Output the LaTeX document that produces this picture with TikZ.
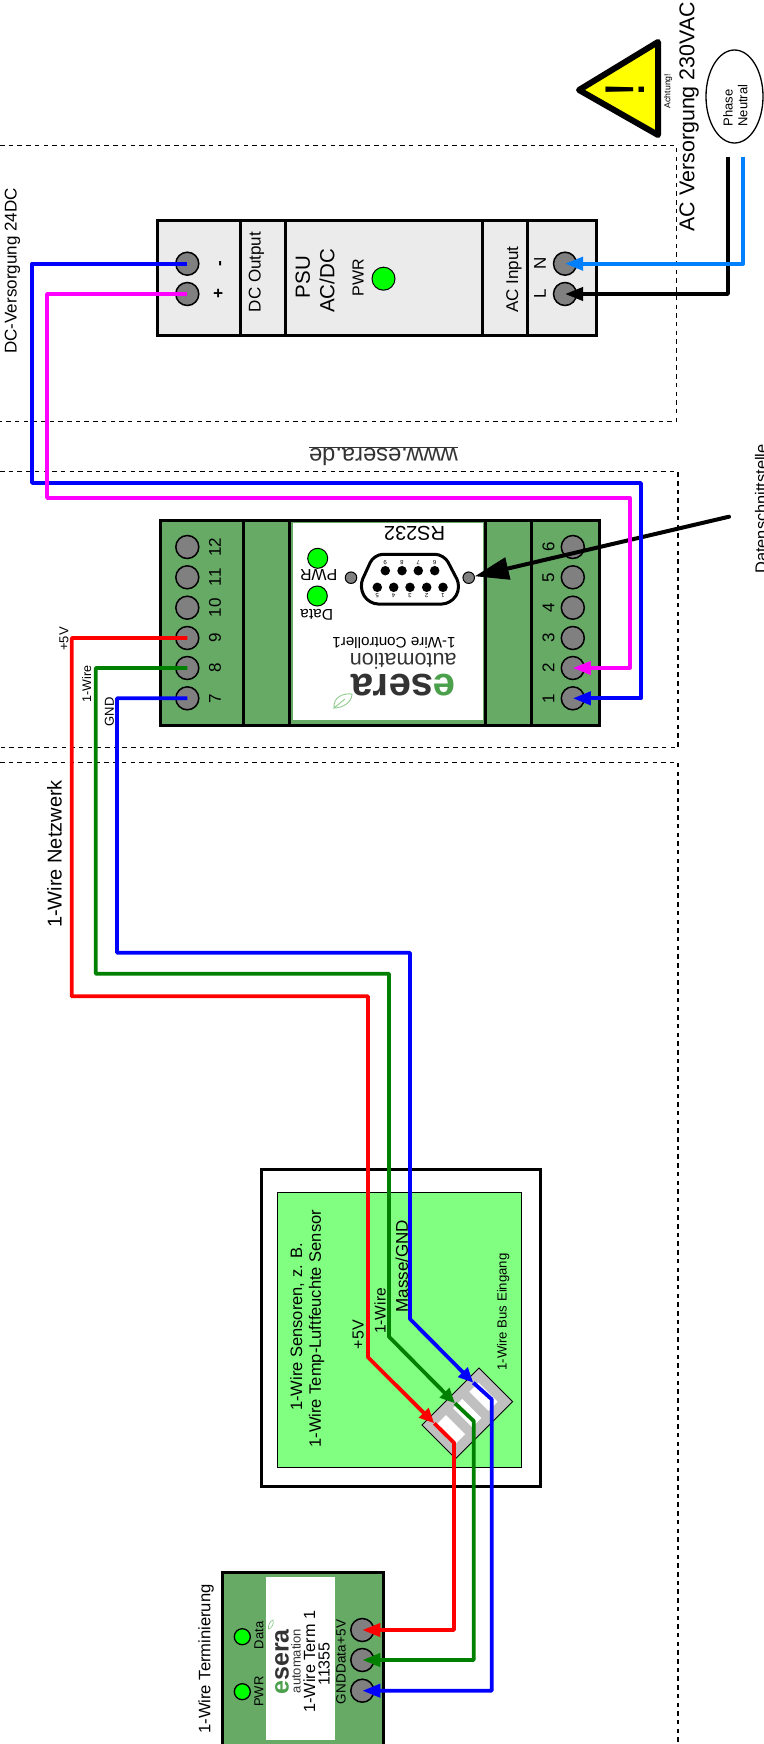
\documentclass[tikz,border=0pt]{standalone}
\usepackage{fontspec}
\setmainfont{Liberation Sans}
\usetikzlibrary{arrows.meta}
\newcommand\fs[1]{\fontsize{#1}{#1}\selectfont}
\definecolor{boardgreen}{HTML}{66AA66}
\definecolor{psugray}{HTML}{EBEBEB}
\definecolor{sensorgreen}{HTML}{80FF80}
\definecolor{acblue}{HTML}{0080FF}
\definecolor{wiregreen}{HTML}{008000}
\definecolor{wirepink}{HTML}{FF00FF}
\definecolor{wirered}{HTML}{FF0000}
\definecolor{wireblue}{HTML}{0000FF}
\definecolor{warnyellow}{HTML}{FFFF00}
\definecolor{ledgreen}{HTML}{00FF00}
\definecolor{termgray}{HTML}{808080}
\definecolor{conngray}{HTML}{C0C0C0}
\definecolor{logogreen}{HTML}{4BA04B}
\definecolor{logodark}{HTML}{333333}
\definecolor{leafgreen}{HTML}{90CC90}
\tikzset{
  term/.style={circle,draw=black,line width=1.5pt,fill=termgray,minimum size=23pt,inner sep=0pt},
  led/.style={circle,draw=black,line width=1pt,fill=ledgreen,inner sep=0pt},
  hole/.style={circle,draw=black,line width=1pt,fill=termgray,minimum size=11.5pt,inner sep=0pt},
  pin/.style={circle,fill=black,minimum size=9.5pt,inner sep=0pt},
  lab/.style={inner sep=0pt,rotate=90},
  flip/.style={inner sep=0pt,rotate=180},
  pinno/.style={inner sep=0pt,rotate=180,font=\fs{6}},
  frame/.style={draw=black,line width=3pt},
  zone/.style={draw=black,line width=1.5pt,dash pattern=on 4.5pt off 4.2pt},
  wire/.style={line width=3.8pt,line join=round},
  head/.style={-{Triangle[length=18pt,width=13pt]}},
  midhead/.style={-{Triangle[length=15pt,width=13pt]}},
  slot/.style={fill=white,rotate=45,minimum width=13pt,minimum height=27pt,inner sep=0pt},
  leaf/.style={draw=leafgreen,line width=0.9pt},
}
\begin{document}
\begin{tikzpicture}[x=1pt,y=-1pt]
\useasboundingbox (0,0) rectangle (763,1744);
% zones
\draw[zone] (0,145.7) -- (676.4,145.7) -- (676.4,421.7) -- (0,421.7);
\draw[zone] (0,471.7) -- (678,471.7) -- (678,747.7) -- (0,747.7);
\draw[zone] (0,762.3) -- (678,762.3) -- (678,1744);

% warning + supply
\draw[line width=6pt,line join=round,fill=warnyellow] (579,90) -- (658,42) -- (658,135) -- cycle;
\node[lab,font=\fs{56}] (warnmark) at (625,90) {!};
\node[lab,font=\fs{8.7}] (warntext) at (668,91) {Achtung!};
\node[lab,font=\fs{21.4}] (actitle) at (689,116.7) {AC Versorgung 230VAC};
\draw[line width=1.3pt] (734.5,96.5) ellipse [x radius=28.5,y radius=46.5];
\node[lab,anchor=west,font=\fs{13}] (phase) at (728,126.7) {Phase};
\node[lab,anchor=west,font=\fs{13}] (neutral) at (742.7,126.7) {Neutral};
\node[lab,font=\fs{17}] (dctitle) at (12.5,271) {DC-Versorgung 24DC};

% PSU
\draw[frame,fill=psugray] (157,221) rectangle (596,335.7);
\draw[frame] (240,221) -- (240,335.7) (285,221) -- (285,335.7) (482,221) -- (482,335.7) (527.5,221) -- (527.5,335.7);
\node[term] (psuminus) at (187.3,263.7) {};
\node[term] (psuplus) at (187.3,294) {};
\node[term] (psun) at (565,263.7) {};
\node[term] (psul) at (565,294) {};
\node[lab,font=\bfseries\fs{17}] (lminus) at (222,263.7) {-};
\node[lab,font=\bfseries\fs{17}] (lplus) at (219,294) {+};
\node[lab,font=\fs{17}] (dcout) at (256.5,272) {DC Output};
\node[lab,font=\fs{20.5}] (psu1) at (302.7,277) {PSU};
\node[lab,font=\fs{20.5}] (psu2) at (327,281) {AC/DC};
\node[lab,font=\fs{16}] (psupwr) at (358,278) {PWR};
\node[led,minimum size=23pt] (psuled) at (383.5,278.7) {};
\node[lab,font=\fs{17}] (acin) at (514,279.7) {AC Input};
\node[lab,font=\fs{17}] (ln) at (540,263.7) {N};
\node[lab,font=\fs{17}] (ll) at (540,294) {L};

% controller
\draw[frame,fill=boardgreen] (160.6,520.7) rectangle (599.5,725.3);
\draw[frame] (243,520.7) -- (243,725.3) (289.5,520.7) -- (289.5,725.3) (485.6,520.7) -- (485.6,725.3) (531.4,520.7) -- (531.4,725.3);
\fill[white] (292.5,522.7) rectangle (482.7,720);
\foreach \n/\y in {12/547,11/577.3,10/607.7,9/638,8/668,7/698.3}{
  \node[term] (c\n) at (187.3,\y) {};
  \node[lab,font=\fs{17}] (cl\n) at (215,\y) {\n};
}
\foreach \n/\y in {6/547,5/577.3,4/607.7,3/638,2/668,1/698.3}{
  \node[term] (c\n) at (572.8,\y) {};
  \node[lab,font=\fs{17}] (cl\n) at (548.4,\y) {\n};
}
\node[flip,font=\fs{20}] (rs) at (414.6,533) {RS232};
\node[flip,font=\fs{16}] (cpwr) at (318.7,574.7) {PWR};
\node[flip,font=\fs{15.5}] (cdata) at (316.7,615) {Data};
\node[led,minimum size=20pt] (cledp) at (317.7,558.3) {};
\node[led,minimum size=20pt] (cledd) at (317.3,596) {};
\node[hole] (holel) at (351,577.7) {};
\node[hole] (holer) at (468.7,577.7) {};
\draw[line width=3pt,rounded corners=9pt,fill=white] (374,554.3) -- (444,554.3) -- (461,587) -- (451,604) -- (369,604) -- (359,587) -- cycle;
\foreach \n/\x in {9/385.3,8/402,7/418.3,6/434.7}{
  \node[pin] (pa\n) at (\x,570.7) {};
  \node[pinno] (na\n) at (\x,562.7) {\n};
}
\foreach \n/\x in {5/377.3,4/393.7,3/410,2/426.7,1/443}{
  \node[pin] (pb\n) at (\x,587.3) {};
  \node[pinno] (nb\n) at (\x,595.3) {\n};
}
\node[flip,font=\fs{15.2}] (ctitle) at (394,643.3) {1-Wire Controller1};
\node[flip,font=\fs{21.6},text=logodark] (cauto) at (403.3,661.5) {automation};
\node[flip,font=\bfseries\fs{40}] (clogo) at (403.3,685) {\textcolor{logogreen}{e}\textcolor{logodark}{sera}};
\draw[leaf] (334,708) .. controls (333,697) and (343,693) .. (352,694) .. controls (352,702) and (343,708) .. (334,708) -- (345,699);
\node[flip,font=\fs{23.7},text=logodark] (www) at (383.5,456) {\underline{www.esera.de}};

% data interface
\node[lab,font=\fs{16.4}] (rslabel) at (761,509) {Datenschnittstelle};
\coordinate (rsfrom) at (729,516.7);
\draw[line width=4pt,line cap=round,-{Triangle[length=34pt,width=22pt]}] (rsfrom) -- (holer);

% sensor
\draw[frame,fill=white] (261.7,1169.3) rectangle (540.7,1486.7);
\draw[draw=black,line width=1pt,fill=sensorgreen] (277.7,1192) rectangle (521,1467);
\node[draw=black,line width=1pt,fill=conngray,rotate=45,minimum width=80.6pt,minimum height=47.6pt,inner sep=0pt] (conn) at (467.3,1413.3) {};
\node[slot] (slota) at (451,1429.2) {};
\node[slot] (slotb) at (467.2,1413) {};
\node[slot] (slotc) at (483.5,1396.7) {};
\node[lab,font=\fs{16.5}] (s1) at (297.3,1327) {1-Wire Sensoren, z. B.};
\node[lab,font=\fs{16.5}] (s2) at (316.7,1328.7) {1-Wire Temp-Luftfeuchte Sensor};
\node[lab,font=\fs{16}] (s5v) at (358.3,1334.7) {+5V};
\node[lab,font=\fs{15.5}] (s1w) at (380,1311) {1-Wire};
\node[lab,font=\fs{17}] (sgnd) at (401.7,1266) {Masse/GND};
\node[lab,font=\fs{13.2}] (sbus) at (503.3,1312) {1-Wire Bus Eingang};

% network labels
\node[lab,font=\fs{13}] (n5v) at (64,639) {+5V};
\node[lab,font=\fs{12.5}] (n1w) at (86.6,684) {1-Wire};
\node[lab,font=\fs{13}] (ngnd) at (109.5,712) {GND};
\node[lab,font=\fs{20}] (nettitle) at (54.5,854) {1-Wire Netzwerk};

% terminator
\draw[frame,fill=boardgreen] (222.3,1572.7) rectangle (383.3,1760);
\fill[white] (266,1577.3) rectangle (335,1740);
\node[led,minimum size=16pt,line width=1.3pt] (tledd) at (242.3,1636.7) {};
\node[led,minimum size=16pt,line width=1.3pt] (tledp) at (242.3,1691.7) {};
\node[lab,font=\fs{13}] (tdata) at (259,1635.3) {Data};
\node[lab,font=\fs{13}] (tpwr) at (259,1691.7) {PWR};
\node[lab,font=\bfseries\fs{25}] (tlogo) at (282,1662) {\textcolor{logogreen}{e}\textcolor{logodark}{sera}};
\node[lab,font=\fs{13},text=logodark] (tauto) at (296,1661) {automation};
\node[lab,font=\fs{16.2}] (tt1) at (309.3,1661.7) {1-Wire Term 1};
\node[lab,font=\fs{16}] (tt2) at (324,1664) {11355};
\node[lab,font=\fs{13.5}] (t5vl) at (341,1632) {+5V};
\node[lab,font=\fs{13.5}] (tdl) at (341,1659) {Data};
\node[lab,font=\fs{13.5}] (tgl) at (341,1689) {GND};
\node[term] (t5v) at (362.3,1630) {};
\node[term] (tdt) at (362.3,1660) {};
\node[term] (tgn) at (362.3,1690.7) {};
\draw[leaf,line width=0.7pt] (268.5,1629) .. controls (268,1625) and (270,1621) .. (273,1620) .. controls (274,1624) and (272,1628) .. (268.5,1629);
\node[lab,font=\fs{16.6}] (ttitle) at (206,1659) {1-Wire Terminierung};

% AC wires
\coordinate (acl) at (728,156.7);
\coordinate (acn) at (743,156.7);
\draw[wire,black,head] (acl) -- (728,294) -- (psul.center);
\draw[wire,acblue,head] (acn) -- (743,263.7) -- (psun.center);
% DC wires
\draw[wire,wireblue,head] (psuminus.center) -- (32,263.7) -- (32,483) -- (641,483) -- (641,698.3) -- (c1.center);
\draw[wire,wirepink,head] (psuplus.center) -- (47,294) -- (47,498) -- (629.7,498) -- (629.7,668) -- (c2.center);
% bus
\coordinate (tipr) at (434.3,1423.3);
\coordinate (tipg) at (455,1403.3);
\coordinate (tipb) at (473.3,1382.7);
\draw[wire,wirered,midhead] (c9.center) -- (71.7,638) -- (71.7,996.3) -- (368,996.3) -- (368,1357.3) -- (tipr);
\draw[wire,wiregreen,midhead] (c8.center) -- (95.7,668) -- (95.7,973.7) -- (389,973.7) -- (389,1336.7) -- (tipg);
\draw[wire,wireblue,midhead] (c7.center) -- (117,698.3) -- (117,952.7) -- (410,952.7) -- (410,1319) -- (tipb);
\draw[wire,wirered,head] (tipr) -- (454,1442.7) -- (454,1630) -- (t5v.center);
\draw[wire,wiregreen,head] (tipg) -- (473.7,1421) -- (473.7,1660) -- (tdt.center);
\draw[wire,wireblue,head] (tipb) -- (491.7,1399.3) -- (491.7,1690.7) -- (tgn.center);
\end{tikzpicture}
\end{document}
